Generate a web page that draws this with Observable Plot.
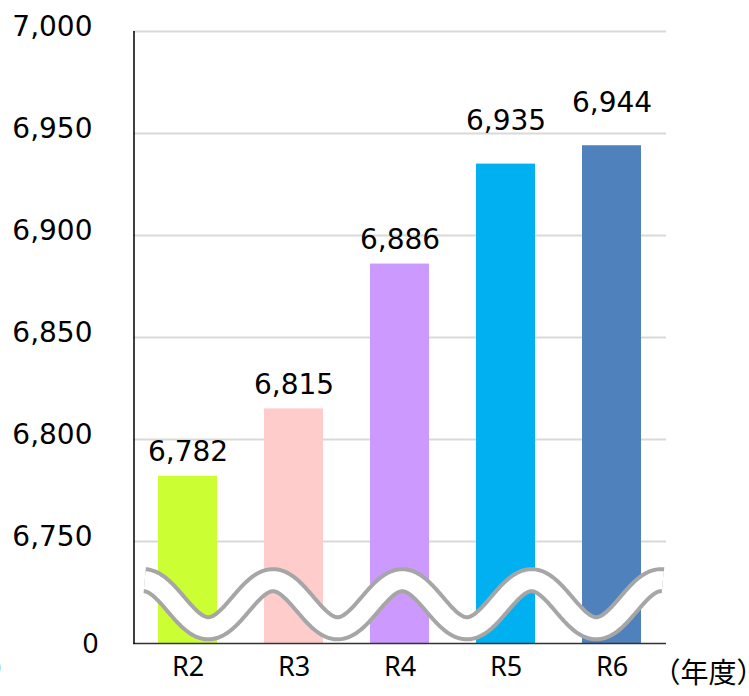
<!DOCTYPE html>
<html><head><meta charset="utf-8">
<script src="https://cdn.jsdelivr.net/npm/d3@7"></script>
<script src="https://cdn.jsdelivr.net/npm/@observablehq/plot@0.6"></script>
<style>body{margin:0;background:#fff} svg{display:block}</style>
</head><body><div id="chart"></div>
<script>
const years = ["R2", "R3", "R4", "R5", "R6"];
const values = [6782, 6815, 6886, 6935, 6944];
const colors = ["#ccff33", "#ffcccc", "#cc99ff", "#00b0f0", "#4f81bd"];
const yTicks = [6750, 6800, 6850, 6900, 6950, 7000];
const yTop = 7000;
const baseValue = 6700;   // axis break: position shown as 0
const baseLabel = "0";
const xUnit = "（年度）";
const yUnit = "（人）";

const data = years.map((y, i) => ({year: y, value: values[i], color: colors[i], i}));
const fmt = d3.format(",");
const numFont = "DejaVu Sans, Verdana, sans-serif";
const latFont = "Noto Sans, Open Sans, sans-serif";
const cjkFont = "Noto Sans CJK JP, sans-serif";

const plot = Plot.plot({
  width: 749, height: 696,
  marginLeft: 133, marginRight: 83, marginTop: 31, marginBottom: 53,
  x: {domain: years, paddingInner: 0.44, paddingOuter: 0.22, axis: null},
  y: {domain: [baseValue, yTop], axis: null},
  color: {type: "identity"},
  style: {background: "white"},
  marks: [
    Plot.ruleY(yTicks, {stroke: "#d9d9d9", strokeWidth: 2}),
    Plot.barY(data, {x: "year", y1: baseValue, y2: "value", fill: "color"}),
    Plot.ruleY([baseValue], {stroke: "#333", strokeWidth: 1.5}),
    Plot.text(data.filter(d => d.i < 3), {x: "year", y: "value", text: d => fmt(d.value), dy: -24, fontSize: 28, fontFamily: numFont, fill: "#000"}),
    Plot.text(data.filter(d => d.i >= 3), {x: "year", y: "value", text: d => fmt(d.value), dy: -43, fontSize: 28, fontFamily: numFont, fill: "#000"}),
    Plot.text(yTicks, {y: d => d, text: d => fmt(d), frameAnchor: "left", textAnchor: "end", dx: -41, dy: -4.5, fontSize: 28, fontFamily: numFont, fill: "#000"}),
    Plot.text([baseValue], {y: d => d, text: () => baseLabel, frameAnchor: "left", textAnchor: "end", dx: -35, dy: 0.5, fontSize: 28, fontFamily: latFont, fill: "#000"}),
    Plot.text(years, {x: d => d, text: d => d, frameAnchor: "bottom", dy: 32, fontSize: 27, fontFamily: latFont, fill: "#000"}),
    Plot.text([xUnit], {text: d => d, frameAnchor: "bottom-right", textAnchor: "start", dx: -14, dy: 39, fontSize: 28, fontFamily: cjkFont, fill: "#000"}),
    Plot.text([yUnit], {text: d => d, frameAnchor: "bottom-left", textAnchor: "end", dx: -114, dy: 35, fontSize: 28, fontFamily: cjkFont, fill: "#000"})
  ]
});

// axis-break wave and left axis line, positioned with the plot's own scales
const svg = d3.select(plot);
const ys = plot.scale("y"), xs = plot.scale("x");
const [x0, x1] = xs.range;
const step = (x1 - x0) / years.length;
const cy = ys.apply(6719);
const amp = ys.apply(baseValue) - ys.apply(baseValue + 11.8);
const period = 1.213 * step;
const peak = x0 + 1.313 * step;
const pts = d3.range(x0 + 0.11 * step, x1 - 0.03 * step, 1).concat([x1 - 0.03 * step])
  .map(x => [x, cy - amp * Math.cos(2 * Math.PI * (x - peak) / period)]);
const line = d3.line();
const g = svg.append("g");
g.append("path").attr("d", line(pts)).attr("fill", "none").attr("stroke", "#a6a6a6").attr("stroke-width", 26);
g.append("path").attr("d", line(pts)).attr("fill", "none").attr("stroke", "#fff").attr("stroke-width", 18);
svg.append("line")
  .attr("x1", x0 + 1).attr("x2", x0 + 1)
  .attr("y1", ys.apply(yTop)).attr("y2", ys.apply(baseValue) + 0.75)
  .attr("stroke", "#000").attr("stroke-width", 1.5);

document.getElementById("chart").appendChild(plot);
</script>
</body></html>
